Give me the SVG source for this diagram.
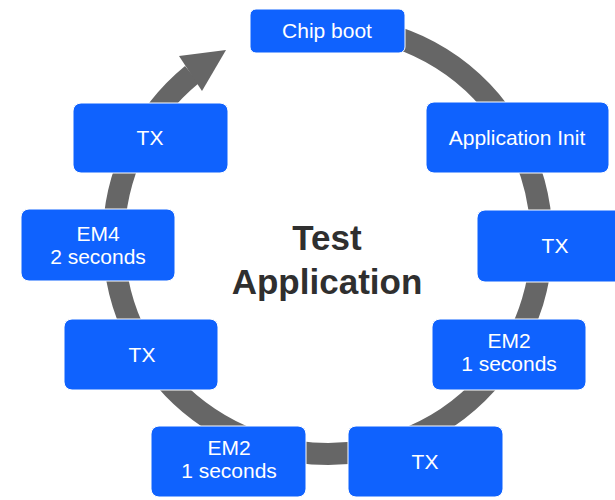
<svg xmlns="http://www.w3.org/2000/svg" width="615" height="500" viewBox="0 0 615 500">
<style>
.node rect{fill:#0f62fe;stroke:#ffffff;stroke-width:1}
.node text{fill:#ffffff;font-family:"Liberation Sans",Arial,sans-serif;font-size:21px;text-anchor:middle}
.title{fill:#2f2f2f;font-family:"Liberation Sans",Arial,sans-serif;font-size:35px;font-weight:bold;text-anchor:middle}
.ring{fill:none;stroke:#666666;stroke-width:22}
</style>
<rect width="615" height="500" fill="#ffffff"/>
<g id="connectors">
<path class="ring" d="M327,26 A214,214 0 1 1 192,74.5"/>
<polygon points="226,50 179,56 202,91" fill="#666666"/>
</g>
<g id="title"><text class="title" x="327" y="250">Test</text><text class="title" x="327" y="294">Application</text></g>
<g id="n1" class="node"><rect x="250" y="9" width="155" height="44" rx="6"/><text x="327" y="38">Chip boot</text></g>
<g id="n2" class="node"><rect x="426" y="102" width="183" height="71" rx="8"/><text x="517" y="145">Application Init</text></g>
<g id="n3" class="node"><rect x="477" y="210" width="150" height="72" rx="8"/><text x="555" y="253">TX</text></g>
<g id="n4" class="node"><rect x="432" y="319" width="154" height="71" rx="8"/><text x="509" y="348">EM2</text><text x="509" y="371">1 seconds</text></g>
<g id="n5" class="node"><rect x="348" y="426" width="155" height="71" rx="8"/><text x="425" y="469">TX</text></g>
<g id="n6" class="node"><rect x="151" y="426" width="155" height="71" rx="8"/><text x="229" y="455">EM2</text><text x="229" y="478">1 seconds</text></g>
<g id="n7" class="node"><rect x="64" y="319" width="154" height="71" rx="8"/><text x="142" y="362">TX</text></g>
<g id="n8" class="node"><rect x="21" y="209" width="154" height="72" rx="8"/><text x="98" y="241">EM4</text><text x="98" y="264">2 seconds</text></g>
<g id="n9" class="node"><rect x="73" y="103" width="155" height="70" rx="8"/><text x="150" y="145">TX</text></g>
</svg>
